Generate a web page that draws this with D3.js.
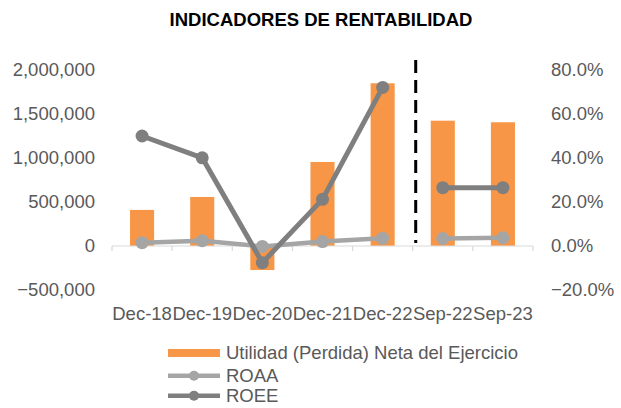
<!DOCTYPE html>
<html><head><meta charset="utf-8">
<script src="https://cdn.jsdelivr.net/npm/d3@7"></script>
<style>body{margin:0;background:#fff}svg{display:block;font-family:"Liberation Sans",Arial,sans-serif}</style>
</head><body><svg id="c" width="621" height="408"></svg>
<script>
const categories = ["Dec-18","Dec-19","Dec-20","Dec-21","Dec-22","Sep-22","Sep-23"];
const utilidad = [410000, 557000, -273000, 955000, 1849000, 1424000, 1406000];
const roaa = [0.015, 0.024, -0.002, 0.020, 0.035, 0.034, 0.037];
const roee = [0.500, 0.401, -0.076, 0.212, 0.721, 0.265, 0.265];
const segments = [[0,1,2,3,4],[5,6]];
const leftTicks = [-500000, 0, 500000, 1000000, 1500000, 2000000];
const rightTicks = [-0.2, 0, 0.2, 0.4, 0.6, 0.8];
const title = "INDICADORES DE RENTABILIDAD";
const legendLabels = ["Utilidad (Perdida) Neta del Ejercicio","ROAA","ROEE"];

const svg = d3.select("#c");
const fs = 18.5, txt = "#595959";
const x = d3.scaleBand().domain(categories).range([112, 533]).paddingInner(0).paddingOuter(0);
const yL = d3.scaleLinear().domain([-500000, 2000000]).range([290, 70]);
const yR = d3.scaleLinear().domain([-0.2, 0.8]).range([290, 70]);

svg.append("text").attr("x", 321).attr("y", 26).attr("text-anchor","middle")
  .attr("font-weight","bold").attr("font-size", 18.5).attr("fill","#000").text(title);

// left axis labels
const fmt = d3.format(",");
svg.append("g").selectAll("text").data(leftTicks).join("text")
  .attr("x", 95).attr("y", d => yL(d)).attr("dy","0.35em").attr("text-anchor","end")
  .attr("font-size", fs).attr("fill", txt).text(d => fmt(d));
const pf = d3.format(".1%");
svg.append("g").selectAll("text").data(rightTicks).join("text")
  .attr("x", 551).attr("y", d => yR(d)).attr("dy","0.35em").attr("text-anchor","start")
  .attr("font-size", fs).attr("fill", txt).text(d => pf(d));

// bars
svg.append("g").selectAll("rect").data(utilidad).join("rect")
  .attr("x", (d,i) => x(categories[i]) + x.bandwidth()*0.3)
  .attr("width", x.bandwidth()*0.4)
  .attr("y", d => Math.min(yL(d), yL(0)))
  .attr("height", d => Math.abs(yL(d) - yL(0)))
  .attr("fill", "#f79646");

// x axis line and ticks
const y0 = yL(0);
svg.append("line").attr("x1", 112).attr("x2", 533).attr("y1", y0).attr("y2", y0)
  .attr("stroke", "#d9d9d9").attr("stroke-width", 1.2);
const bounds = categories.map(c => x(c)).concat([533]);
svg.append("g").selectAll("line").data(bounds).join("line")
  .attr("x1", d => d).attr("x2", d => d).attr("y1", y0).attr("y2", y0 + 5)
  .attr("stroke", "#d9d9d9").attr("stroke-width", 1.2);

// x labels
svg.append("g").selectAll("text").data(categories).join("text")
  .attr("x", d => x(d) + x.bandwidth()/2).attr("y", 320).attr("text-anchor","middle")
  .attr("font-size", fs).attr("fill", txt).text(d => d);

// dashed separator
const sepX = x(categories[5]) + 3;
svg.append("line").attr("x1", sepX).attr("x2", sepX).attr("y1", 60).attr("y2", 243)
  .attr("stroke", "#000").attr("stroke-width", 3).attr("stroke-dasharray", "13,7");

// lines
const cx = i => x(categories[i]) + x.bandwidth()/2;
function drawSeries(vals, color, w) {
  const line = d3.line().x(i => cx(i)).y(i => yR(vals[i]));
  const g = svg.append("g");
  segments.forEach(s => g.append("path").attr("d", line(s)).attr("fill","none")
    .attr("stroke", color).attr("stroke-width", w).attr("stroke-linejoin","round"));
  g.selectAll("circle").data(vals).join("circle")
    .attr("cx", (d,i) => cx(i)).attr("cy", d => yR(d)).attr("r", 6.5).attr("fill", color);
}
drawSeries(roaa, "#a5a5a5", 4.5);
drawSeries(roee, "#7f7f7f", 5);

// legend
const lg = svg.append("g");
lg.append("rect").attr("x", 168).attr("y", 349).attr("width", 52).attr("height", 8).attr("fill", "#f79646");
const legLines = [[375.7, "#a5a5a5"], [395.7, "#7f7f7f"]];
legLines.forEach(([ly, col]) => {
  lg.append("line").attr("x1", 168).attr("x2", 220).attr("y1", ly).attr("y2", ly).attr("stroke", col).attr("stroke-width", 4.5);
  lg.append("circle").attr("cx", 194).attr("cy", ly).attr("r", 5).attr("fill", col);
});
const legY = [353, 375.7, 395.7];
lg.selectAll("text").data(legendLabels).join("text")
  .attr("x", 226).attr("y", (d,i) => legY[i]).attr("dy","0.35em")
  .attr("font-size", fs).attr("fill", txt).text(d => d);
</script></body></html>
